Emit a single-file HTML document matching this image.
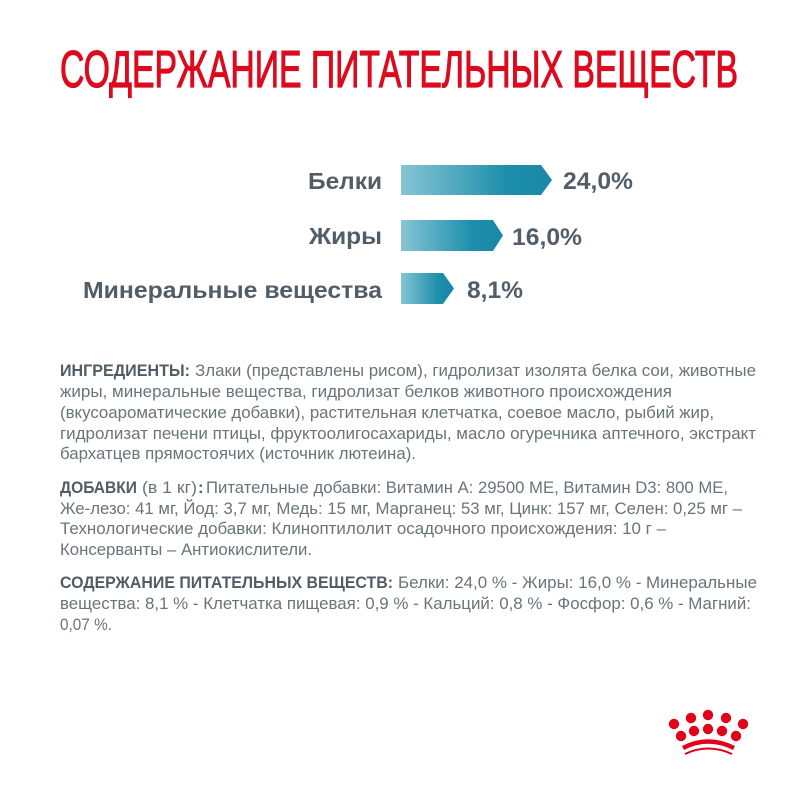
<!DOCTYPE html>
<html>
<head>
<meta charset="utf-8">
<style>
html,body{margin:0;padding:0;background:#fff;}
svg{display:block;}
.t{font-family:"Liberation Sans","Noto Sans CJK SC",sans-serif;}
.r{font-size:16.5px;fill:#6a747b;}
.b{font-size:16.5px;fill:#515c64;font-weight:bold;}
.lab{font-size:23px;font-weight:bold;fill:#525d67;}
.val{font-size:24px;font-weight:bold;fill:#525d67;}
</style>
</head>
<body>
<svg width="800" height="800" viewBox="0 0 800 800" xmlns="http://www.w3.org/2000/svg">
<defs>
<linearGradient id="g" x1="0" y1="0" x2="1" y2="0">
<stop offset="0" stop-color="#86c5d5"/>
<stop offset="0.7" stop-color="#1d8eab"/>
<stop offset="1" stop-color="#1789a7"/>
</linearGradient>
</defs>
<rect width="800" height="800" fill="#fff"/>

<text class="t" x="60" y="87" font-size="52" fill="#dd0a1e" stroke="#dd0a1e" stroke-width="1.2" textLength="678" lengthAdjust="spacingAndGlyphs">СОДЕРЖАНИЕ ПИТАТЕЛЬНЫХ ВЕЩЕСТВ</text>

<!-- chart -->
<text class="t lab" x="308" y="189" textLength="74" lengthAdjust="spacingAndGlyphs">Белки</text>
<text class="t lab" x="309" y="244" textLength="73" lengthAdjust="spacingAndGlyphs">Жиры</text>
<text class="t lab" x="83" y="298" textLength="299" lengthAdjust="spacingAndGlyphs">Минеральные вещества</text>

<polygon points="401,165 541,165 552,180 541,195 401,195" fill="url(#g)"/>
<polygon points="401,220 493,220 503,235.5 493,251 401,251" fill="url(#g)"/>
<polygon points="401,273 443,273 454,288.5 443,304 401,304" fill="url(#g)"/>

<text class="t val" x="563" y="189" textLength="70" lengthAdjust="spacingAndGlyphs">24,0%</text>
<text class="t val" x="512" y="245" textLength="70" lengthAdjust="spacingAndGlyphs">16,0%</text>
<text class="t val" x="467" y="298" textLength="56" lengthAdjust="spacingAndGlyphs">8,1%</text>

<!-- ingredients -->
<text class="t b" x="60" y="376" textLength="130" lengthAdjust="spacingAndGlyphs">ИНГРЕДИЕНТЫ:</text>
<text class="t r" x="195" y="376" textLength="561" lengthAdjust="spacingAndGlyphs">Злаки (представлены рисом), гидролизат изолята белка сои, животные</text>
<text class="t r" x="60" y="397" textLength="612" lengthAdjust="spacingAndGlyphs">жиры, минеральные вещества, гидролизат белков животного происхождения</text>
<text class="t r" x="60" y="418" textLength="654" lengthAdjust="spacingAndGlyphs">(вкусоароматические добавки), растительная клетчатка, соевое масло, рыбий жир,</text>
<text class="t r" x="60" y="439" textLength="696" lengthAdjust="spacingAndGlyphs">гидролизат печени птицы, фруктоолигосахариды, масло огуречника аптечного, экстракт</text>
<text class="t r" x="60" y="459" textLength="356" lengthAdjust="spacingAndGlyphs">бархатцев прямостоячих (источник лютеина).</text>

<!-- additives -->
<text class="t b" x="60" y="493" textLength="77" lengthAdjust="spacingAndGlyphs">ДОБАВКИ</text>
<text class="t r" x="142" y="493" textLength="55" lengthAdjust="spacingAndGlyphs">(в 1 кг)</text>
<text class="t b" x="198" y="493">:</text>
<text class="t r" x="206" y="493" textLength="522" lengthAdjust="spacingAndGlyphs">Питательные добавки: Витамин A: 29500 МЕ, Витамин D3: 800 МЕ,</text>
<text class="t r" x="60" y="514" textLength="682" lengthAdjust="spacingAndGlyphs">Же-лезо: 41 мг, Йод: 3,7 мг, Медь: 15 мг, Марганец: 53 мг, Цинк: 157 мг, Селен: 0,25 мг –</text>
<text class="t r" x="60" y="534" textLength="606" lengthAdjust="spacingAndGlyphs">Технологические добавки: Клиноптилолит осадочного происхождения: 10 г –</text>
<text class="t r" x="60" y="555" textLength="252" lengthAdjust="spacingAndGlyphs">Консерванты – Антиокислители.</text>

<!-- nutrients -->
<text class="t b" x="60" y="588" textLength="333" lengthAdjust="spacingAndGlyphs">СОДЕРЖАНИЕ ПИТАТЕЛЬНЫХ ВЕЩЕСТВ:</text>
<text class="t r" x="398" y="588" textLength="359" lengthAdjust="spacingAndGlyphs">Белки: 24,0 % - Жиры: 16,0 % - Минеральные</text>
<text class="t r" x="60" y="609" textLength="691" lengthAdjust="spacingAndGlyphs">вещества: 8,1 % - Клетчатка пищевая: 0,9 % - Кальций: 0,8 % - Фосфор: 0,6 % - Магний:</text>
<text class="t r" x="60" y="630" textLength="52" lengthAdjust="spacingAndGlyphs">0,07 %.</text>

<!-- crown logo -->
<g fill="#e2001a">
<circle cx="674" cy="724" r="5.2"/>
<circle cx="691" cy="718" r="5.2"/>
<circle cx="708" cy="715" r="5.2"/>
<circle cx="726" cy="718" r="5.2"/>
<circle cx="743" cy="724" r="5.2"/>
<circle cx="681" cy="736" r="5.2"/>
<circle cx="694" cy="731" r="5.2"/>
<circle cx="708" cy="729" r="5.2"/>
<circle cx="722" cy="731" r="5.2"/>
<circle cx="736" cy="736" r="5.2"/>
</g>
<path d="M683,748 Q708,735 734,748" stroke="#e2001a" stroke-width="4.5" fill="none"/>
<path d="M685,754 Q708,743 732,754" stroke="#e2001a" stroke-width="2" fill="none"/>
</svg>
</body>
</html>
